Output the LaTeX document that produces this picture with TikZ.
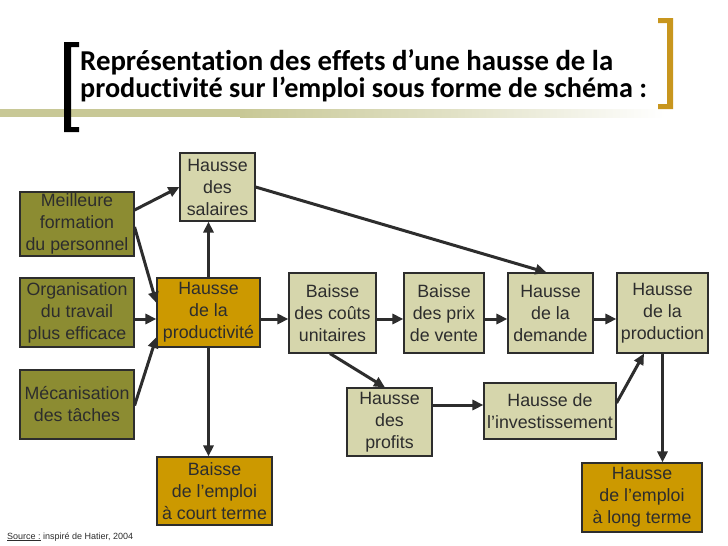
\documentclass[tikz,border=0pt]{standalone}
\usepackage{graphicx}
\usepackage{fontspec}
\setmainfont{Liberation Sans}
\newfontfamily\titlefont[Ligatures={NoCommon,NoContextual}]{Carlito}
\usetikzlibrary{arrows.meta,calc}
\definecolor{boxolive}{RGB}{140,140,50}
\definecolor{boxkhaki}{RGB}{214,214,172}
\definecolor{boxgold}{RGB}{204,153,0}
\definecolor{inkgray}{RGB}{45,45,45}
\definecolor{bandkhaki}{RGB}{200,200,150}
\definecolor{bracketgold}{RGB}{200,150,30}
\begin{document}
\begin{tikzpicture}[x=1pt,y=-1pt,
  box/.style={draw=inkgray, line width=1.1pt, text=inkgray, align=center, inner sep=1pt,
    font=\fontsize{17.8}{22}\selectfont},
  olivebox/.style={box, fill=boxolive},
  khakibox/.style={box, fill=boxkhaki},
  goldbox/.style={box, fill=boxgold},
  arr/.style={draw=inkgray, line width=3pt, -{Triangle[length=11pt,width=10pt]}},
]
\useasboundingbox (0,0) rectangle (728,546);
\fill[white] (0,0) rectangle (728,546);

% title band and brackets
\fill[bandkhaki] (0,109) rectangle (240,117);
\shade[left color=bandkhaki, right color=white, middle color=bandkhaki!55] (240,109) rectangle (665,117);
\fill[black] (64,42) -- (79,42) -- (79,47) -- (71,47) -- (71,127) -- (79,127) -- (79,132) -- (64,132) -- cycle;
\fill[bracketgold] (658,18) -- (673,18) -- (673,109) -- (658,109) -- (658,104) -- (667,104) -- (667,23) -- (658,23) -- cycle;

\node[anchor=base west, inner sep=0] (title1) at (80,70)
  {\resizebox{533pt}{!}{\titlefont\bfseries\fontsize{24}{28}\selectfont Représentation des effets d’une hausse de la}};
\node[anchor=base west, inner sep=0] (title2) at (80,97)
  {\resizebox{567pt}{!}{\titlefont\bfseries\fontsize{24}{28}\selectfont productivité sur l’emploi sous forme de schéma :}};

% boxes
\node[olivebox, minimum width=114pt, minimum height=64pt] (meil) at (77,224) {Meilleure\\formation\\du personnel};
\node[olivebox, minimum width=114pt, minimum height=69pt] (org) at (77,312.5) {Organisation\\du travail\\plus efficace};
\node[olivebox, minimum width=114pt, minimum height=69pt] (mec) at (77,404.5) {Mécanisation\\des tâches};
\node[khakibox, minimum width=75pt, minimum height=68pt] (sal) at (217.5,187) {Hausse\\des\\salaires};
\node[goldbox, minimum width=103pt, minimum height=69pt] (prod) at (208.5,312.5) {Hausse\\de la\\productivité};
\node[khakibox, minimum width=87pt, minimum height=80pt] (couts) at (332.5,313) {Baisse\\des coûts\\unitaires};
\node[khakibox, minimum width=80pt, minimum height=80pt] (prix) at (444,313) {Baisse\\des prix\\de vente};
\node[khakibox, minimum width=85pt, minimum height=80pt] (dem) at (550.5,313) {Hausse\\de la\\demande};
\node[khakibox, minimum width=91pt, minimum height=80pt] (prodn) at (662.5,313) {Hausse\\de la\\production};
\node[khakibox, minimum width=85pt, minimum height=68pt] (profits) at (389.5,422) {Hausse\\des\\profits};
\node[khakibox, minimum width=132pt, minimum height=56pt] (invest) at (550,411) {Hausse de\\l’investissement};
\node[goldbox, minimum width=115pt, minimum height=68pt] (court) at (214.5,491) {Baisse\\de l’emploi\\à court terme};
\node[goldbox, minimum width=120pt, minimum height=69pt] (long) at (642,497.5) {Hausse\\de l’emploi\\à long terme};

% connectors
\draw[arr] ([yshift=14pt]meil.east) -- (sal.west);
\draw[arr] ([yshift=-3pt]meil.east) -- ([yshift=9.5pt]prod.west);
\draw[arr] ([yshift=-6.5pt]org.east) -- ([yshift=-6.5pt]prod.west);
\draw[arr] ([yshift=-1pt]mec.east) -- ([yshift=-24.5pt]prod.west);
\draw[arr] (prod.north) -- (prod.north |- sal.south);
\draw[arr] (prod.south) -- (prod.south |- court.north);
\draw[arr] ([yshift=-6.5pt]prod.east) -- ([yshift=-6pt]couts.west);
\draw[arr] ([yshift=-6pt]couts.east) -- ([yshift=-6pt]prix.west);
\draw[arr] ([yshift=-6pt]prix.east) -- ([yshift=-6pt]dem.west);
\draw[arr] ([yshift=-6pt]dem.east) -- ([yshift=-6pt]prodn.west);
\draw[arr] (sal.east) -- ([xshift=-4pt]dem.north);
\draw[arr] ([xshift=-2.5pt]couts.south) -- ([xshift=-4.5pt]profits.north);
\draw[arr] ([yshift=17pt]profits.east) -- ([yshift=17pt]profits.east -| invest.west);
\draw[arr] ([yshift=8pt]invest.east) -- ([xshift=-18.5pt]prodn.south);
\draw[arr] (prodn.south) -- (prodn.south |- long.north);

\node[anchor=base west, inner sep=0, text=inkgray, font=\fontsize{9}{11}\selectfont] (src) at (7,539)
  {\underline{Source :} inspiré de Hatier, 2004};
\end{tikzpicture}
\end{document}
